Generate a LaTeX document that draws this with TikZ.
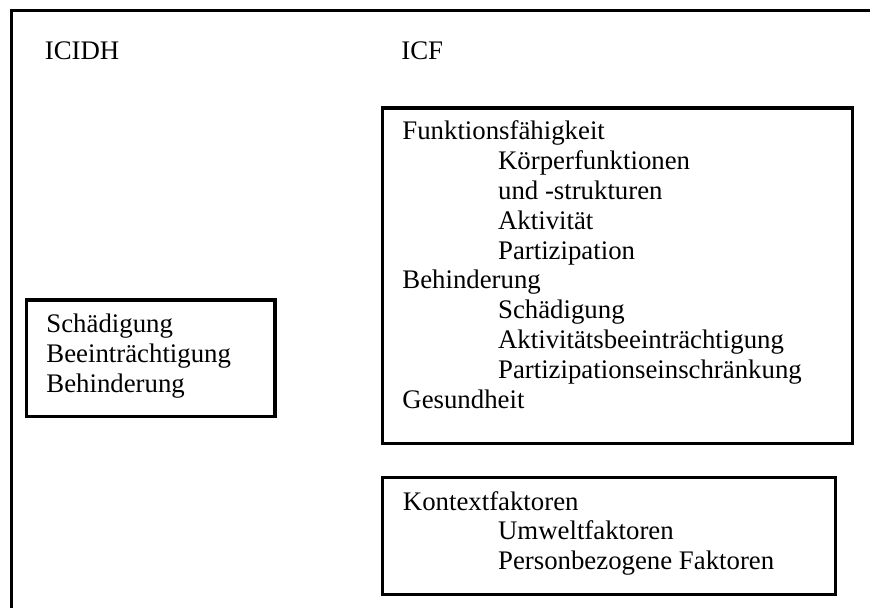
\documentclass[tikz,border=0pt]{standalone}
\usepackage{fontspec}
\setmainfont{Liberation Serif}
\usetikzlibrary{positioning}

\tikzset{
  frame/.style={line width=1.6pt},
  entry/.style={anchor=base west, inner sep=0pt, font=\fontsize{13.4}{15}\selectfont},
}

\begin{document}
\begin{tikzpicture}[x=0.5pt, y=-0.5pt]
      % Fix the page size
      \useasboundingbox (0,0) rectangle (870,608);

      % Outer frame, cut at the right and bottom
      \draw[frame] (11.7,620) -- (11.7,10.7) -- (880,10.7);

      % Headings
      \node[entry] (icidh) at (44.5,60) {ICIDH};
      \node[entry] (icf) at (401,60) {ICF};

      % ICIDH box
      \draw[frame] (26.5,300) rectangle (275,416.7);
      \node[entry] (schaed) at (46,333) {Schädigung};
      \node[entry] (beein) at (46,362.5) {Beeinträchtigung};
      \node[entry] (behin) at (46,392) {Behinderung};

      % ICF box
      \draw[frame] (382.7,108) rectangle (852.7,443.3);
      \node[entry] (funk) at (402,140) {Funktionsfähigkeit};
      \node[entry] (koerp) at (497.7,169.8) {Körperfunktionen};
      \node[entry] (strukt) at (497.7,199.6) {und -strukturen};
      \node[entry] (aktiv) at (497.7,229.4) {Aktivität};
      \node[entry] (partiz) at (497.7,259.2) {Partizipation};
      \node[entry] (behind) at (402,289) {Behinderung};
      \node[entry] (schaedi) at (497.7,318.8) {Schädigung};
      \node[entry] (aktbeein) at (497.7,348.6) {Aktivitätsbeeinträchtigung};
      \node[entry] (parteins) at (497.7,378.4) {Partizipationseinschränkung};
      \node[entry] (gesund) at (402,408.2) {Gesundheit};

      % Kontextfaktoren box
      \draw[frame] (382.7,477.7) rectangle (835.7,594.3);
      \node[entry] (kontext) at (402.5,510) {Kontextfaktoren};
      \node[entry] (umwelt) at (497.7,539.5) {Umweltfaktoren};
      \node[entry] (person) at (497.7,569) {Personbezogene Faktoren};
\end{tikzpicture}
\end{document}
